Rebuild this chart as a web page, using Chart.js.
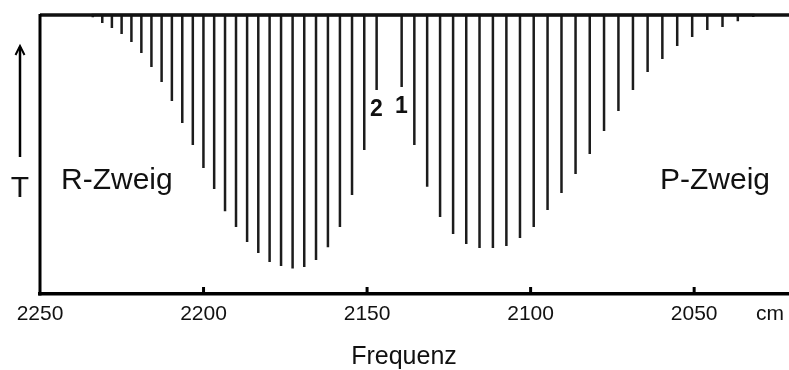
<!DOCTYPE html>
<html>
<head>
<meta charset="utf-8">
<script src="https://cdn.jsdelivr.net/npm/chart.js@4/dist/chart.umd.min.js"></script>
<style>
  html, body { margin: 0; padding: 0; background: #fff; }
  #c { display: block; }
</style>
</head>
<body>
<canvas id="c" width="789" height="370"></canvas>
<script>
// ---- Data (wavenumber in cm^-1, transmission in % of baseline) ----
const rBranchPositions = [2147.08, 2150.86, 2154.60, 2158.30, 2161.97, 2165.61, 2169.21, 2172.77, 2176.30, 2179.80,
  2183.26, 2186.68, 2190.07, 2193.43, 2196.75, 2200.03, 2203.28, 2206.50, 2209.68, 2212.82,
  2215.93, 2219.01, 2222.05, 2225.05, 2228.02, 2230.96, 2233.86];
const rBranchT = [73.1, 51.6, 35.5, 24.0, 16.8, 12.2, 9.7, 9.1, 10.0, 11.5,
  14.7, 18.6, 24.0, 29.7, 37.6, 45.2, 53.4, 61.3, 69.2, 76.0,
  81.4, 86.4, 90.3, 93.2, 95.3, 97.1, 99.2];
const pBranchPositions = [2139.43, 2135.55, 2131.63, 2127.68, 2123.70, 2119.68, 2115.62, 2111.53, 2107.41, 2103.25,
  2099.05, 2094.82, 2090.56, 2086.26, 2081.92, 2077.55, 2073.15, 2068.71, 2064.23, 2059.72,
  2055.18, 2050.60, 2045.98, 2041.33, 2036.65, 2031.93];
const pBranchT = [74.2, 53.4, 38.4, 27.6, 21.5, 17.9, 16.5, 16.5, 17.2, 20.1,
  24.0, 30.1, 36.2, 43.0, 50.2, 58.4, 65.6, 73.1, 79.6, 84.2,
  88.9, 92.1, 94.6, 95.7, 97.8, 99.3];
const xTicks = [2250, 2200, 2150, 2100, 2050];
const xRange = [2021, 2250];
const baselineT = 100;

// ---- Build spectrum path: each line goes baseline -> tip -> baseline ----
const lines = rBranchPositions.map((p, i) => ({ pos: p, t: rBranchT[i] }))
  .concat(pBranchPositions.map((p, i) => ({ pos: p, t: pBranchT[i] })))
  .sort((a, b) => b.pos - a.pos);
const spectrum = [];
lines.forEach(l => {
  spectrum.push({ x: l.pos, y: baselineT });
  spectrum.push({ x: l.pos, y: l.t });
  spectrum.push({ x: l.pos, y: baselineT });
});
const baseline = [{ x: xRange[1], y: baselineT }, { x: xRange[0], y: baselineT }];

const FONT = "'Liberation Sans', Arial, Helvetica, sans-serif";

const decor = {
  id: 'decor',
  afterDraw(chart) {
    const ctx = chart.ctx;
    const a = chart.chartArea;
    const xs = chart.scales.x;
    ctx.save();
    ctx.strokeStyle = '#000';
    // left frame line
    ctx.lineWidth = 3;
    ctx.beginPath();
    ctx.moveTo(a.left, a.top - 1);
    ctx.lineTo(a.left, a.bottom + 1.5);
    ctx.stroke();
    // inward tick marks
    xTicks.forEach(v => {
      if (v === xRange[1]) return;
      const px = xs.getPixelForValue(v);
      ctx.beginPath();
      ctx.moveTo(px, a.bottom);
      ctx.lineTo(px, a.bottom - 7);
      ctx.stroke();
    });
    // arrow for T
    ctx.lineWidth = 2.5;
    ctx.beginPath();
    ctx.moveTo(20, 157);
    ctx.lineTo(20, 47);
    ctx.stroke();
    ctx.lineWidth = 2;
    ctx.beginPath();
    ctx.moveTo(15.5, 55);
    ctx.lineTo(20, 46);
    ctx.lineTo(24.5, 55);
    ctx.stroke();

    ctx.fillStyle = '#111';
    ctx.textBaseline = 'alphabetic';
    ctx.textAlign = 'center';
    ctx.font = '30px ' + FONT;
    ctx.fillText('T', 20, 197);
    ctx.textAlign = 'left';
    ctx.fillText('R-Zweig', 61, 189);
    ctx.fillText('P-Zweig', 660, 189);
    ctx.font = 'bold 23px ' + FONT;
    ctx.fillText('2', 370, 116);
    ctx.fillText('1', 395, 113);
    ctx.font = '21px ' + FONT;
    ctx.fillText('cm', 756, 320);
    ctx.textAlign = 'center';
    ctx.font = '25px ' + FONT;
    ctx.fillText('Frequenz', 404, 364);
    ctx.restore();
  }
};

new Chart(document.getElementById('c'), {
  type: 'scatter',
  data: {
    datasets: [
      {
        data: baseline,
        showLine: true,
        borderColor: '#111',
        borderWidth: 3.5,
        pointRadius: 0,
        clip: false
      },
      {
        data: spectrum,
        showLine: true,
        borderColor: '#1c1c1c',
        borderWidth: 2.5,
        pointRadius: 0,
        tension: 0,
        clip: false
      }
    ]
  },
  plugins: [decor],
  options: {
    responsive: false,
    animation: false,
    devicePixelRatio: 1,
    layout: { padding: { left: 40, top: 15, right: 0, bottom: 0 } },
    plugins: { legend: { display: false }, tooltip: { enabled: false } },
    scales: {
      x: {
        type: 'linear',
        reverse: true,
        min: xRange[0],
        max: xRange[1],
        afterBuildTicks: s => { s.ticks = xTicks.map(v => ({ value: v })); },
        afterFit: s => { s.height = 76; },
        grid: { display: false, drawTicks: false },
        border: { display: true, color: '#000', width: 3.5 },
        ticks: {
          color: '#111',
          padding: 8,
          maxRotation: 0,
          autoSkip: false,
          font: { family: FONT, size: 21 },
          callback: v => String(v)
        }
      },
      y: {
        display: false,
        min: 0,
        max: 100
      }
    }
  }
});
</script>
</body>
</html>
